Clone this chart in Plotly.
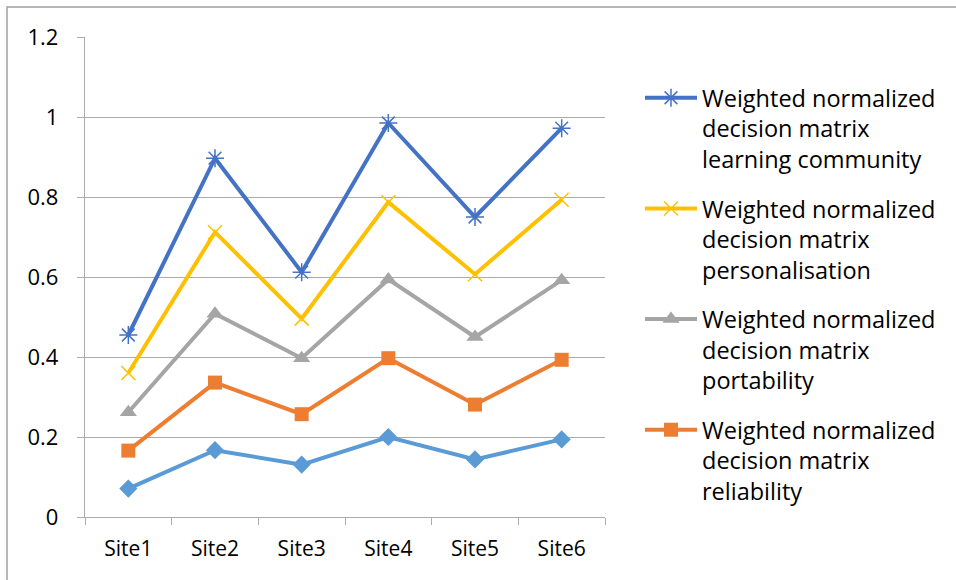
import plotly.graph_objects as go

W, H = 956, 580
ML, MR, MT, MB = 85, 351, 37, 63

sites = ["Site1", "Site2", "Site3", "Site4", "Site5", "Site6"]

learning_community = [0.455, 0.897, 0.612, 0.985, 0.750, 0.972]
personalisation = [0.360, 0.712, 0.496, 0.787, 0.607, 0.793]
portability = [0.262, 0.508, 0.397, 0.594, 0.450, 0.592]
reliability = [0.166, 0.336, 0.257, 0.397, 0.281, 0.393]
fifth_criterion = [0.071, 0.167, 0.131, 0.200, 0.144, 0.194]

y_ticks = [0, 0.2, 0.4, 0.6, 0.8, 1, 1.2]
y_tick_text = ["0", "0.2", "0.4", "0.6", "0.8", "1", "1.2"]

legend_names = [
    "Weighted normalized<br>decision matrix<br>learning community",
    "Weighted normalized<br>decision matrix<br>personalisation",
    "Weighted normalized<br>decision matrix<br>portability",
    "Weighted normalized<br>decision matrix<br>reliability",
]

FONT = "Open Sans"
GRID = "#ababab"
LW = 4

fig = go.Figure()

# Fifth series has no legend entry
fig.add_trace(go.Scatter(
    x=sites, y=fifth_criterion, mode="lines+markers",
    name="Weighted normalized decision matrix", showlegend=False,
    line=dict(color="#5B9BD5", width=LW),
    marker=dict(symbol="diamond", size=14, color="#5B9BD5"),
))

series = [
    (learning_community, legend_names[0], "#4472C4",
     dict(symbol="asterisk-open", size=15, color="#4472C4", line=dict(color="#4472C4", width=1.5))),
    (personalisation, legend_names[1], "#FFC000",
     dict(symbol="x-thin-open", size=14, color="#FFC000", line=dict(color="#FFC000", width=1.5))),
    (portability, legend_names[2], "#A5A5A5",
     dict(symbol="triangle-up", size=15, color="#A5A5A5")),
    (reliability, legend_names[3], "#ED7D31",
     dict(symbol="square", size=14, color="#ED7D31")),
]

for i, (vals, name, color, mk) in enumerate(series):
    fig.add_trace(go.Scatter(
        x=sites, y=vals, mode="lines+markers", name=name,
        legendgroup=f"g{i}", legendrank=i + 1,
        line=dict(color=color, width=LW), marker=mk,
    ))

fig.update_layout(
    width=W, height=H,
    margin=dict(l=ML, r=MR, t=MT, b=MB),
    paper_bgcolor="white", plot_bgcolor="white",
    font=dict(family=FONT, size=21, color="#000000"),
    showlegend=True,
    legend=dict(
        x=(640 - ML) / (W - ML - MR), xanchor="left",
        y=(H - MB - 76) / (H - MT - MB), yanchor="top",
        font=dict(family=FONT, size=23.5, color="#000000"),
        valign="top", tracegroupgap=16, itemwidth=52,
        bgcolor="rgba(0,0,0,0)",
    ),
    xaxis=dict(
        type="category", range=[-0.5, 5.5],
        showline=True, linecolor=GRID, linewidth=1.3,
        ticks="outside", tickson="boundaries", ticklen=7, tickcolor=GRID,
        showgrid=False, zeroline=False,
        tickfont=dict(family=FONT, size=21, color="#000000"),
        ticklabelstandoff=13,
    ),
    yaxis=dict(
        range=[0, 1.2], tickvals=y_ticks, ticktext=y_tick_text,
        showline=True, linecolor=GRID, linewidth=1.3,
        ticks="outside", ticklen=7, tickcolor=GRID,
        showgrid=True, gridcolor=GRID, gridwidth=1.3, zeroline=False,
        tickfont=dict(family=FONT, size=22, color="#000000"),
        ticklabelstandoff=14,
    ),
)

# Outer chart frame (top and left edges visible within the canvas)
pw, ph = W - ML - MR, H - MT - MB
fig.add_shape(
    type="rect", xref="paper", yref="paper",
    x0=(7 - ML) / pw, x1=(W + 20 - ML) / pw,
    y0=(H - MB - (H + 20)) / ph, y1=(H - MB - 7) / ph,
    line=dict(color="#a0a0a0", width=1.5), fillcolor="rgba(0,0,0,0)",
    layer="below",
)

fig.write_html("out.html")
